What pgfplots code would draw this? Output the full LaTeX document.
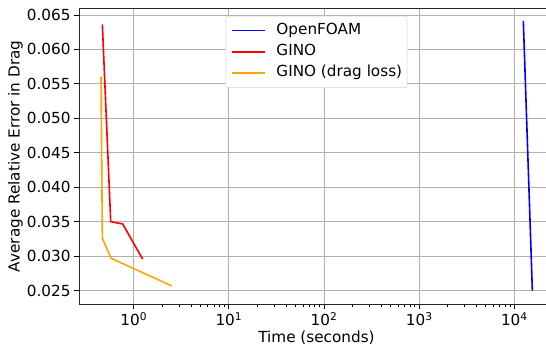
\documentclass[border=0pt]{standalone}
\usepackage{fontspec}
\setmainfont{DejaVu Sans}
\usepackage{pgfplots}
\pgfplotsset{compat=1.18}
\definecolor{mplorange}{RGB}{255,165,0}
\definecolor{gridgray}{RGB}{176,176,176}
\begin{document}
\begin{tikzpicture}
\begin{axis}[
  font=\fontsize{15.3}{18}\selectfont,
  scale only axis,
  width=475bp, height=296bp,
  xmode=log,
  xmin=0.266, xmax=26100,
  ymin=0.02301, ymax=0.06597,
  xtick={1,10,100,1000,10000},
  xticklabels={10\textsuperscript{0},10\textsuperscript{1},10\textsuperscript{2},10\textsuperscript{3},10\textsuperscript{4}},
  ytick={0.025,0.030,0.035,0.040,0.045,0.050,0.055,0.060,0.065},
  yticklabel style={/pgf/number format/.cd,fixed,fixed zerofill,precision=3,assume math mode=true},
  scaled y ticks=false,
  tick align=outside,
  xtick pos=bottom, ytick pos=left,
  major tick length=5bp, minor tick length=3bp,
  every tick/.style={black, line width=0.8bp},
  grid=major,
  major grid style={gridgray, line width=0.8bp},
  axis line style={black!85, line width=0.8bp},
  xlabel={Time (seconds)},
  ylabel={Average Relative Error in Drag},
  xlabel style={at={(axis description cs:0.5,0)}, anchor=center, yshift=-33.6bp},
  ylabel style={at={(axis description cs:-0.1337,0.5)}, anchor=center},
  legend style={at={(0.5,0.974)}, anchor=north, draw=gray!35, rounded corners=2bp,
    fill=white, font=\fontsize{15.3}{18}\selectfont,
    inner xsep=5bp, inner ysep=7.2bp,
    nodes={inner sep=0bp, text height=11bp, text depth=3.5bp},
    row sep=6.8bp,
    /tikz/every odd column/.append style={column sep=11bp}},
  legend cell align=left,
  legend image code/.code={\draw[#1, line width=1.6bp] (0bp,0bp) -- (33bp,0bp);},
]
\addplot[blue, line width=1.6bp] coordinates {(12430,0.06413) (15460,0.0250)};
\addlegendentry{OpenFOAM}
\addplot[red, line width=1.6bp] coordinates {(0.468,0.06365) (0.573,0.0350) (0.766,0.03467) (1.243,0.02955)};
\addlegendentry{GINO}
\addplot[mplorange, line width=1.6bp] coordinates {(0.453,0.05605) (0.468,0.0326) (0.577,0.0297) (2.51,0.02568)};
\addlegendentry{GINO (drag loss)}
\end{axis}
\pgfresetboundingbox
\path[use as bounding box] ([xshift=-79bp,yshift=-40.6bp]current axis.south west) rectangle ([xshift=-8bp,yshift=8.3bp]current axis.north east);
\end{tikzpicture}
\end{document}
